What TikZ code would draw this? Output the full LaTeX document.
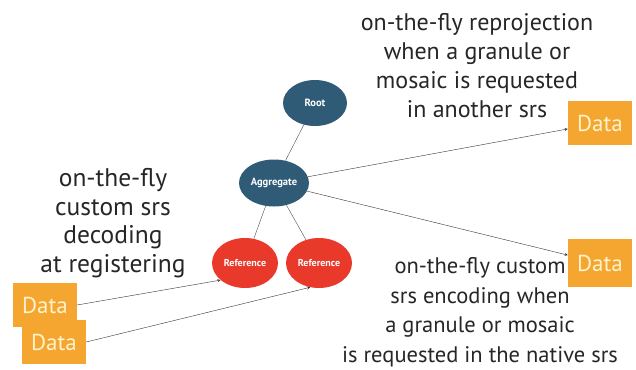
\documentclass[tikz,border=0pt]{standalone}
\usepackage{fontspec}
\setmainfont{PT Sans}
\usepackage{xcolor}
\usetikzlibrary{shapes.geometric, arrows}
\usetikzlibrary{positioning}
\definecolor{treeblue}{HTML}{2F5B77}
\definecolor{treered}{HTML}{E8392B}
\definecolor{dataorange}{HTML}{F5A631}
\definecolor{datatext}{HTML}{FFF3CC}
\tikzstyle{arrow} = [->,>=stealth,draw=black!80]
\tikzstyle{link} = [draw=black!70]
\tikzstyle{bluenode} = [ellipse, fill=treeblue, text=white, font=\bfseries\fontsize{10.5}{10.5}\selectfont, inner sep=0pt]
\tikzstyle{rednode} = [ellipse, fill=treered, text=white, font=\bfseries\fontsize{10}{10}\selectfont, inner sep=0pt, minimum width=66pt, minimum height=50pt]
\tikzstyle{databox} = [rectangle, fill=dataorange, text=datatext, font=\fontsize{23}{23}\selectfont, minimum width=64pt, minimum height=44pt, inner sep=0pt]
\tikzstyle{note} = [align=center, font=\fontsize{22.5}{29.5}\selectfont, text=black!85]

\begin{document}
\begin{tikzpicture}[x=1pt, y=-1pt, node distance=40pt, on grid]
        \useasboundingbox (0,0) rectangle (636,369);
        % tree
        \node[bluenode, minimum width=64pt, minimum height=46pt] (root) at (315,103) {Root};
        \node[bluenode, minimum width=70pt, minimum height=47pt] (aggr) [below left=80pt and 41pt of root] {Aggregate};
        \node[rednode] (ref1) [below left=80pt and 29pt of aggr] {Reference};
        \node[rednode] (ref2) [right=74pt of ref1] {Reference};
        % data
        \node[databox] (dataR1) [below right=20pt and 285pt of root] {Data};
        \node[databox, minimum height=48pt] (dataR2) [right=281pt of ref2] {Data};
        \node[databox] (dataL1) [below left=42pt and 200pt of ref1] {Data};
        \node[databox] (dataL2) [below right=37pt and 9pt of dataL1] {Data};
        % texts
        \node[note, font=\fontsize{25.5}{28.5}\selectfont] (noteL) at (113,223) {on-the-fly\\custom srs\\decoding\\at registering};
        \node[note, font=\fontsize{24}{29}\selectfont] (noteT) at (477,66) {on-the-fly reprojection\\when a granule or\\mosaic is requested\\in another srs};
        \node[note] (noteB) at (480,312) {on-the-fly custom\\srs encoding when\\a granule or mosaic\\is requested in the native srs};

        % links
        \draw[link] (root) -- (aggr);
        \draw[link] (aggr) -- (ref1);
        \draw[link] (aggr) -- (ref2);

        \draw[arrow] (aggr) -- (dataR1);
        \draw[arrow] (aggr) -- (dataR2);

        \draw[arrow] (dataL1.east) -- (ref1.215);
        \draw[arrow] (dataL2.east) -- (ref2.250);
    \end{tikzpicture}
\end{document}
